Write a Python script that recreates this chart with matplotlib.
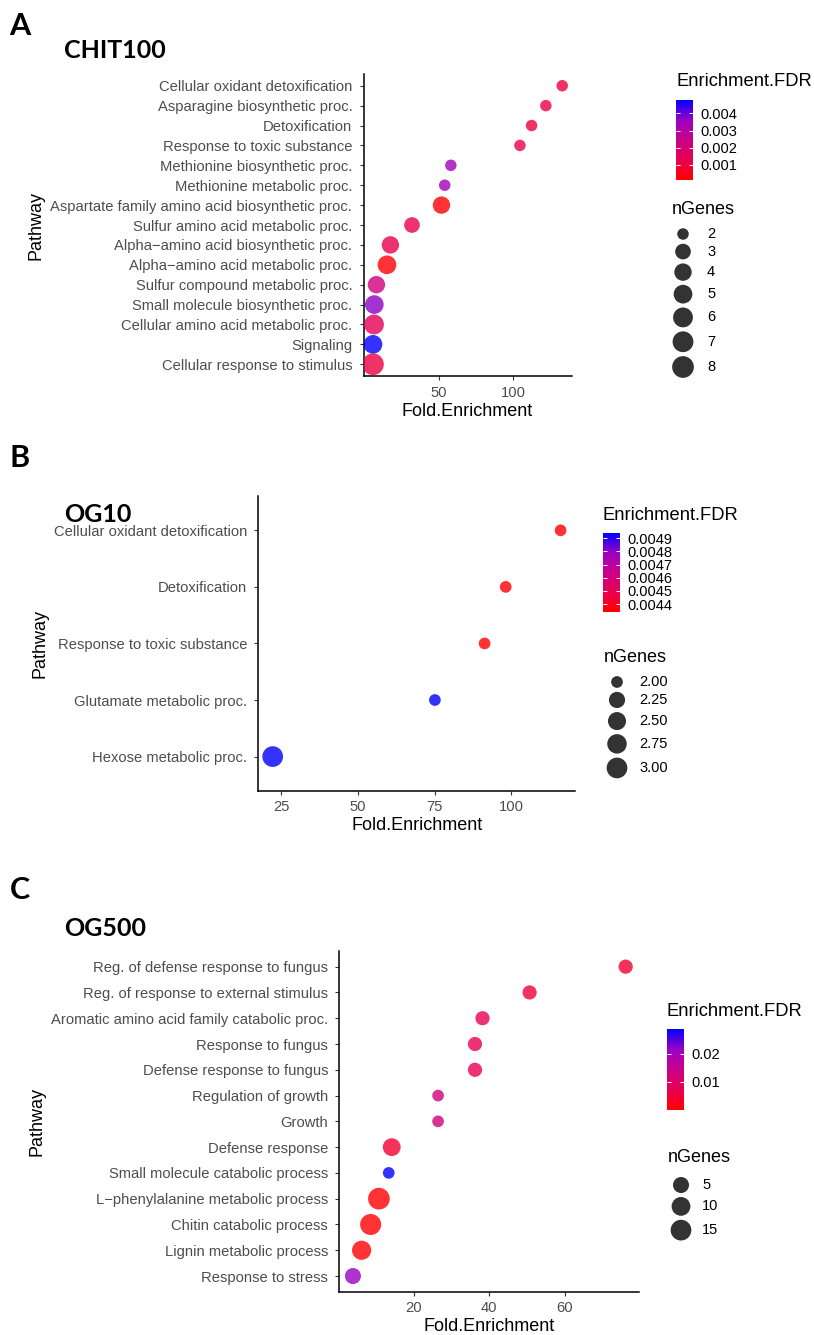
import numpy as np
import matplotlib
matplotlib.use('Agg')
import matplotlib.pyplot as plt
from matplotlib.colors import LinearSegmentedColormap, Normalize
from matplotlib.cm import ScalarMappable

# ---- data ----
# A: CHIT100
pathways_a = ['Cellular oxidant detoxification', 'Asparagine biosynthetic proc.',
              'Detoxification', 'Response to toxic substance',
              'Methionine biosynthetic proc.', 'Methionine metabolic proc.',
              'Aspartate family amino acid biosynthetic proc.',
              'Sulfur amino acid metabolic proc.', 'Alpha\u2212amino acid biosynthetic proc.',
              'Alpha\u2212amino acid metabolic proc.', 'Sulfur compound metabolic proc.',
              'Small molecule biosynthetic proc.', 'Cellular amino acid metabolic proc.',
              'Signaling', 'Cellular response to stimulus']
fold_a = [132.9, 121.9, 112.3, 104.5, 58.1, 54.0, 51.8, 32.0, 17.5, 15.2, 8.1, 6.7, 6.5, 5.8, 5.8]
fdr_a = [0.0011, 0.0011, 0.0011, 0.0012, 0.0034, 0.0034, 0.00013, 0.0013, 0.0013,
         0.0002, 0.0022, 0.0037, 0.0015, 0.00477, 0.0011]
genes_a = [2, 2, 2, 2, 2, 2, 4, 3, 4, 5, 4, 5, 6, 5, 8]
fold_ticks_a = [50, 100]
fdr_ticks_a = [0.001, 0.002, 0.003, 0.004]
gene_breaks_a = [2, 3, 4, 5, 6, 7, 8]

# B: OG10
pathways_b = ['Cellular oxidant detoxification', 'Detoxification',
              'Response to toxic substance', 'Glutamate metabolic proc.',
              'Hexose metabolic proc.']
fold_b = [116.1, 98.2, 91.3, 75.1, 22.2]
fdr_b = [0.00434, 0.00434, 0.00434, 0.00494, 0.00494]
genes_b = [2, 2, 2, 2, 3]
fold_ticks_b = [25, 50, 75, 100]
fdr_ticks_b = [0.0044, 0.0045, 0.0046, 0.0047, 0.0048, 0.0049]
gene_breaks_b = [2.00, 2.25, 2.50, 2.75, 3.00]

# C: OG500
pathways_c = ['Reg. of defense response to fungus', 'Reg. of response to external stimulus',
              'Aromatic amino acid family catabolic proc.', 'Response to fungus',
              'Defense response to fungus', 'Regulation of growth', 'Growth',
              'Defense response', 'Small molecule catabolic process',
              'L\u2212phenylalanine metabolic process', 'Chitin catabolic process',
              'Lignin metabolic process', 'Response to stress']
fold_c = [76.2, 50.7, 38.2, 36.2, 36.2, 26.4, 26.4, 14.1, 13.3, 10.7, 8.5, 6.1, 3.8]
fdr_c = [0.0044, 0.0058, 0.0078, 0.0078, 0.0078, 0.013, 0.013, 0.0044, 0.0287,
         0.0001, 0.0003, 0.0004, 0.0215]
genes_c = [3, 3, 3, 3, 3, 2, 2, 8, 2, 18, 16, 11, 5]
fold_ticks_c = [20, 40, 60]
fdr_ticks_c = [0.01, 0.02]
gene_breaks_c = [5, 10, 15]

W, H = 814, 1335
plt.rcParams['font.family'] = ['Liberation Sans', 'DejaVu Sans']
fig = plt.figure(figsize=(W / 100, H / 100), dpi=100)

cmap = LinearSegmentedColormap.from_list(
    'fdr', ['#FF0000', '#E8004F', '#CA0089', '#9A00C3', '#0000FF'])


def rect(l, t, r, b):
    return [l / W, 1 - b / H, (r - l) / W, (b - t) / H]


def diam(n, nmin, nmax, dmin, dmax):
    # ggplot-like area scale: diameter grows with sqrt of rescaled value (px)
    x = (np.asarray(n, float) - nmin) / (nmax - nmin)
    return dmin + (dmax - dmin) * np.sqrt(x)


def area(n, *args):
    return (diam(n, *args) * 0.72) ** 2   # pt^2 at 100 dpi


# overlay for titles / size legends, in pixel coords
lg = fig.add_axes([0, 0, 1, 1], zorder=5)
lg.set_xlim(0, W)
lg.set_ylim(H, 0)
lg.axis('off')


def panel(letter, title, ty, paths, fold, fdr, genes, fticks, cticks, gbreaks,
          box, dr, cbox, leg):
    ax = fig.add_axes(rect(*box))
    n = len(paths)
    y = np.arange(n)[::-1]
    gmin, gmax = min(genes), max(genes)
    norm = Normalize(min(fdr), max(fdr))
    ax.scatter(fold, y, s=area(genes, gmin, gmax, *dr), c=fdr, cmap=cmap, norm=norm,
               alpha=0.8, edgecolors='none', zorder=3)
    lo, hi = min(fold), max(fold)
    ax.set_xlim(lo - 0.05 * (hi - lo), hi + 0.05 * (hi - lo))
    ax.set_ylim(-0.6, n - 0.4)
    ax.set_yticks(y)
    ax.set_yticklabels(paths)
    ax.set_xticks(fticks)
    for s in ['top', 'right']:
        ax.spines[s].set_visible(False)
    for s in ['left', 'bottom']:
        ax.spines[s].set_linewidth(1.1)
    ax.tick_params(length=2.6, width=0.8, color='#333333', labelsize=10.6,
                   labelcolor='#4D4D4D')
    ax.tick_params(axis='y', pad=5.5)
    ax.tick_params(axis='x', pad=4.5)
    ax.set_xlabel('Fold.Enrichment', fontsize=13, labelpad=2)
    ax.set_ylabel('Pathway', fontsize=13, labelpad=4)

    # panel letter and title
    lg.text(20, ty[0], letter, fontsize=22, fontweight='bold', family='Lato',
            ha='center', va='center')
    lg.text(64, ty[1], title, fontsize=18, fontweight='bold', family='Lato',
            ha='left', va='center')

    # colour bar
    cax = fig.add_axes(rect(*cbox))
    cb = fig.colorbar(ScalarMappable(norm=norm, cmap=cmap), cax=cax)
    cb.outline.set_visible(False)
    cb.set_ticks(cticks, labels=[str(v) for v in cticks])
    cax.yaxis.set_ticks_position('both')
    cax.tick_params(direction='in', length=2.6, width=0.7, color='white',
                    labelsize=10.5, labelleft=False, labelright=True, pad=5.5)
    lg.text(cbox[0], cbox[1] - 18, 'Enrichment.FDR', fontsize=13.2, ha='left', va='center')

    # size legend
    tx, ty0, cx, lx, y0 = leg
    lg.text(tx, ty0, 'nGenes', fontsize=13, ha='left', va='center')
    d = diam(gbreaks, gmin, gmax, *dr)
    ys = [y0]
    for i in range(1, len(d)):
        ys.append(ys[-1] + (d[i - 1] + d[i]) / 2 + 4)
    lg.scatter([cx] * len(d), ys, s=area(gbreaks, gmin, gmax, *dr), color='#333333',
               edgecolors='none')
    fmt = '{:.2f}' if any(isinstance(g, float) for g in gbreaks) else '{}'
    for yy, g in zip(ys, gbreaks):
        lg.text(lx, yy, fmt.format(g), fontsize=10.5, ha='left', va='center')
    return ax


panel('A', 'CHIT100', (26, 50), pathways_a, fold_a, fdr_a, genes_a, fold_ticks_a,
      fdr_ticks_a, gene_breaks_a, (363.5, 73.8, 571.7, 376.2), (11.5, 21.7),
      (676, 100, 693, 180), (672, 210, 683, 707, 234))
panel('B', 'OG10', (458, 515), pathways_b, fold_b, fdr_b, genes_b, fold_ticks_b,
      fdr_ticks_b, gene_breaks_b, (258.3, 496.4, 575, 790.5), (11.7, 20.7),
      (603, 533, 620, 612), (604, 658, 617, 639, 682))
panel('C', 'OG500', (890, 928), pathways_c, fold_c, fdr_c, genes_c, fold_ticks_c,
      fdr_ticks_c, gene_breaks_c, (339.3, 951.2, 639.3, 1291.5), (11.7, 21.7),
      (667, 1029, 684, 1110), (668, 1158, 681, 702, 1185))

fig.savefig('out.png', dpi=100)
